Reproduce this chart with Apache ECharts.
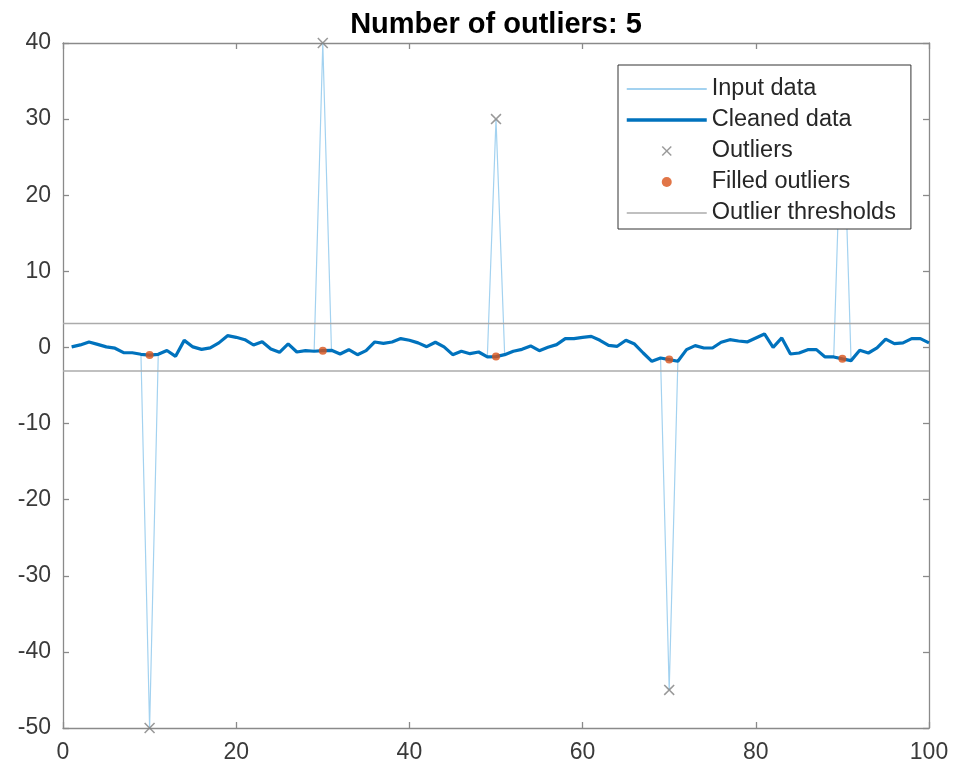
<!DOCTYPE html>
<html>
<head>
<meta charset="utf-8">
<script src="https://cdn.jsdelivr.net/npm/echarts@6/dist/echarts.min.js"></script>
<style>html,body{margin:0;padding:0;background:#fff;}#c{width:957px;height:772px;}</style>
</head>
<body>
<div id="c"></div>
<script>
// ---- data ----
const xValues = Array.from({length: 100}, (_, i) => i + 1); // sample index 1..100
const cleanedData = [
  0.07, 0.33, 0.72, 0.40, 0.07, -0.10, -0.68, -0.70, -0.90, -1.00,
  -0.90, -0.40, -1.17, 0.93, 0.07, -0.25, -0.05, 0.60, 1.55, 1.33,
  1.02, 0.32, 0.76, -0.20, -0.64, 0.46, -0.60, -0.42, -0.50, -0.42,
  -0.38, -0.86, -0.30, -0.95, -0.42, 0.72, 0.54, 0.72, 1.16, 0.94,
  0.60, 0.10, 0.68, 0.07, -0.95, -0.50, -0.82, -0.60, -1.25, -1.20,
  -0.95, -0.50, -0.25, 0.20, -0.42, 0.02, 0.37, 1.16, 1.16, 1.33,
  1.46, 0.94, 0.28, 0.15, 0.94, 0.45, -0.73, -1.82, -1.38, -1.60,
  -1.82, -0.29, 0.24, -0.07, -0.07, 0.68, 1.02, 0.85, 0.72, 1.25,
  1.77, 0.02, 1.25, -0.86, -0.73, -0.29, -0.29, -1.25, -1.25, -1.50,
  -1.73, -0.38, -0.73, -0.07, 1.10, 0.50, 0.60, 1.16, 1.16, 0.60
];
const outlierX = [10, 30, 50, 70, 90];
const outlierValues = [-50, 40, 30, -45, 35];
const filledValues = [-1.00, -0.42, -1.20, -1.60, -1.50];
const thresholdX = [0, 100];
const upperThreshold = 3.15;
const lowerThreshold = -3.1;
const xTicks = {min: 0, max: 100, interval: 20};
const yTicks = {min: -50, max: 40, interval: 10};
const titleText = 'Number of outliers: 5';

// input data = cleaned data with the outliers in place
const inputData = cleanedData.slice();
outlierX.forEach((x, i) => { inputData[xValues.indexOf(x)] = outlierValues[i]; });

const FONT = 'Liberation Sans';
const axisCol = '#8a8a8a';
const labelCol = '#3a3a3a';
const crossPath = 'path://M1 0L5 4L9 0L10 1L6 5L10 9L9 10L5 6L1 10L0 9L4 5L0 1Z';
const hiddenSym = {opacity: 0, color: 'transparent', borderWidth: 0};

const xAxisBase = {
  type: 'value', min: xTicks.min, max: xTicks.max, interval: xTicks.interval,
  axisLine: {show: true, onZero: false, lineStyle: {color: axisCol, width: 1.3}},
  axisTick: {show: true, inside: true, length: 6, lineStyle: {color: axisCol, width: 1.3}},
  splitLine: {show: false}
};
const yAxisBase = {
  type: 'value', min: yTicks.min, max: yTicks.max, interval: yTicks.interval,
  axisLine: {show: true, onZero: false, lineStyle: {color: axisCol, width: 1.3}},
  axisTick: {show: true, inside: true, length: 6, lineStyle: {color: axisCol, width: 1.3}},
  splitLine: {show: false}
};

const chart = echarts.init(document.getElementById('c'), null, {renderer: 'canvas'});
chart.setOption({
  animation: false,
  backgroundColor: '#ffffff',
  textStyle: {fontFamily: FONT},
  title: {
    text: titleText, left: 491, top: 5, textAlign: 'center',
    textStyle: {fontFamily: FONT, fontSize: 29, fontWeight: 'bold', color: '#000'}
  },
  grid: {left: 63, right: 28, top: 43, bottom: 44, containLabel: false},
  xAxis: [
    Object.assign({}, xAxisBase, {position: 'bottom',
      axisLabel: {show: true, margin: 13, fontSize: 23, color: labelCol, fontFamily: FONT}}),
    Object.assign({}, xAxisBase, {position: 'top', axisLabel: {show: false}})
  ],
  yAxis: [
    Object.assign({}, yAxisBase, {position: 'left',
      axisLabel: {show: true, margin: 12, fontSize: 23, color: labelCol, fontFamily: FONT}}),
    Object.assign({}, yAxisBase, {position: 'right', axisLabel: {show: false}})
  ],
  legend: {
    orient: 'vertical', left: 618, top: 65, z: 20,
    backgroundColor: '#ffffff', borderColor: '#333', borderWidth: 1,
    padding: [11, 15, 3, 7], itemGap: 5, itemWidth: 80, itemHeight: 10,
    textStyle: {fontFamily: FONT, fontSize: 23.5, color: '#262626', lineHeight: 26},
    data: [
      {name: 'Input data', itemStyle: hiddenSym, lineStyle: {width: 2}},
      {name: 'Cleaned data', itemStyle: hiddenSym, lineStyle: {width: 3.5}},
      {name: 'Outliers', icon: crossPath},
      {name: 'Filled outliers', icon: 'circle'},
      {name: 'Outlier thresholds', itemStyle: hiddenSym, lineStyle: {width: 1.5}}
    ]
  },
  series: [
    {
      name: 'Input data', type: 'line', symbol: 'none', z: 2,
      color: '#a3d2f0', lineStyle: {color: '#a3d2f0', width: 1.2},
      data: xValues.map((x, i) => [x, inputData[i]])
    },
    {
      name: 'Cleaned data', type: 'line', symbol: 'none', z: 3,
      color: '#0072BD', lineStyle: {color: '#0072BD', width: 3.2},
      data: xValues.map((x, i) => [x, cleanedData[i]])
    },
    {
      name: 'Outliers', type: 'scatter', symbol: crossPath, symbolSize: 11, z: 5,
      color: '#808080', itemStyle: {color: '#808080'},
      data: outlierX.map((x, i) => [x, outlierValues[i]])
    },
    {
      name: 'Filled outliers', type: 'scatter', symbol: 'circle', symbolSize: 8, z: 6,
      color: '#D95319', itemStyle: {color: '#D95319'},
      data: outlierX.map((x, i) => [x, filledValues[i]])
    },
    {
      name: 'Outlier thresholds', type: 'line', symbol: 'none', z: 4,
      color: '#ababab', lineStyle: {color: '#ababab', width: 1.5},
      data: thresholdX.map(x => [x, upperThreshold])
    },
    {
      name: 'Outlier thresholds', type: 'line', symbol: 'none', z: 4,
      color: '#ababab', lineStyle: {color: '#ababab', width: 1.5},
      data: thresholdX.map(x => [x, lowerThreshold])
    }
  ]
});
</script>
</body>
</html>
